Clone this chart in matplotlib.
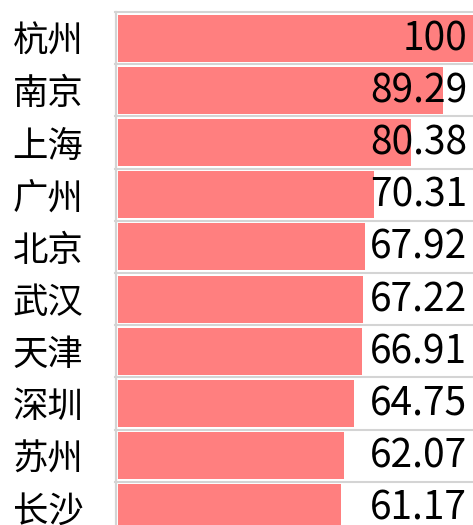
import matplotlib
matplotlib.use("Agg")
from matplotlib import pyplot as plt

plt.rcParams['font.family'] = ['Noto Sans CJK SC', 'DejaVu Sans']

cities = ["杭州", "南京", "上海", "广州", "北京", "武汉", "天津", "深圳", "苏州", "长沙"]
scores = [100, 89.29, 80.38, 70.31, 67.92, 67.22, 66.91, 64.75, 62.07, 61.17]
score_labels = ["100", "89.29", "80.38", "70.31", "67.92", "67.22", "66.91", "64.75", "62.07", "61.17"]

W, H = 473, 525
fig = plt.figure(figsize=(W / 100, H / 100), dpi=100)

# axes: x=0 at 118px, x=100 at 482px (runs off the right edge), rows of 52.2px from y=12
ax = fig.add_axes([118 / W, 1 - (12 + 522) / H, 364 / W, 522 / H])
ax.set_xlim(0, 100)
ax.set_ylim(len(cities) - 0.5, -0.5)

ypos = list(range(len(cities)))
ax.barh(ypos, scores, height=0.9, color="#FF7F7F")

grid = "#d4d4d4"
for i in range(len(cities) + 1):
    ax.plot([-0.8, 100], [i - 0.5, i - 0.5], color=grid, lw=1.5, clip_on=False, zorder=0)
ax.plot([-0.55, -0.55], [-0.5, len(cities) - 0.5], color=grid, lw=1.6, clip_on=False, zorder=3)

for y, lab in zip(ypos, score_labels):
    ax.text(95.9, y + 0.02, lab, ha="right", va="center", fontsize=28, color="black")

ax.set_yticks(ypos)
ax.set_yticklabels(cities, fontsize=25.5)
ax.tick_params(axis="y", length=0, pad=25)
ax.set_xticks([])
for s in ax.spines.values():
    s.set_visible(False)

fig.savefig("out.png", dpi=100)
